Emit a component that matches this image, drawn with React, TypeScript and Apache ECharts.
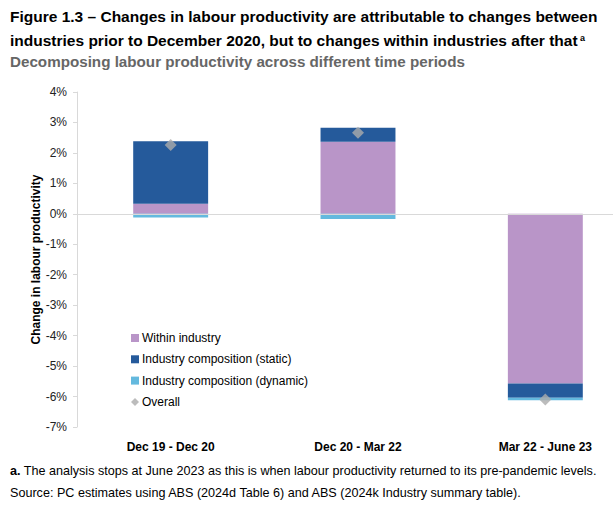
import React, { useEffect, useRef } from "react";
import * as echarts from "echarts";

const categories = ["Dec 19 - Dec 20", "Dec 20 - Mar 22", "Mar 22 - June 23"];
const withinIndustry = [0.33, 2.37, -5.57];
const compositionStatic = [2.05, 0.46, -0.47];
const compositionDynamic = [-0.12, -0.17, -0.08];
const overall = [2.26, 2.66, -6.1];
const yTicks = { min: -7, max: 4, interval: 1 };

export default function App() {
  const ref = useRef<HTMLDivElement>(null);
  useEffect(() => {
    document.body.style.margin = "0";
    const chart = echarts.init(ref.current!, null, { renderer: "svg" });
    const font = "'Liberation Sans', Arial, sans-serif";
    chart.setOption({
      animation: false,
      textStyle: { fontFamily: font },
      title: [
        {
          left: 10,
          top: 4,
          padding: 0,
          text:
            "{t|Figure 1.3 – Changes in labour productivity are attributable to changes between}\n{t|industries prior to December 2020, but to changes within industries after that}{sup| a}",
          textStyle: {
            fontFamily: font,
            fontSize: 15.5,
            fontWeight: "bold",
            color: "#000",
            lineHeight: 24,
            rich: {
              t: { fontSize: 15.5, fontWeight: "bold", color: "#000", lineHeight: 24, fontFamily: font },
              sup: { fontSize: 9, fontWeight: "bold", color: "#000", verticalAlign: "top", lineHeight: 14, padding: [5, 0, 0, 0], fontFamily: font },
            },
          },
        },
        {
          left: 10,
          top: 54,
          padding: 0,
          text: "Decomposing labour productivity across different time periods",
          textStyle: { fontFamily: font, fontSize: 15.2, fontWeight: "bold", color: "#666666" },
        },
        {
          left: 10,
          top: 460,
          padding: 0,
          text: "{b|a.} The analysis stops at June 2023 as this is when labour productivity returned to its pre-pandemic levels.\nSource: PC estimates using ABS (2024d Table 6) and ABS (2024k Industry summary table).",
          textStyle: {
            fontFamily: font,
            fontSize: 12.6,
            fontWeight: "normal",
            color: "#000",
            lineHeight: 22,
            rich: { b: { fontWeight: "bold", fontSize: 12.6, fontFamily: font } },
          },
        },
      ],
      legend: {
        orient: "vertical",
        left: 126,
        top: 327,
        itemGap: 9.3,
        itemWidth: 8,
        itemHeight: 8,
        textStyle: { fontFamily: font, fontSize: 12, color: "#000", padding: [0, 0, 0, -2] },
        data: [
          { name: "Within industry", icon: "rect" },
          { name: "Industry composition (static)", icon: "rect" },
          { name: "Industry composition (dynamic)", icon: "rect" },
          { name: "Overall", icon: "diamond" },
        ],
      },
      grid: { left: 77, top: 92, width: 562, height: 335, outerBoundsMode: "none", containLabel: false },
      xAxis: {
        type: "category",
        data: categories,
        axisLine: { show: false, onZero: false },
        axisTick: { show: false },
        axisLabel: { fontFamily: font, fontSize: 12, fontWeight: "bold", color: "#000", margin: 14 },
      },
      yAxis: {
        type: "value",
        min: yTicks.min,
        max: yTicks.max,
        interval: yTicks.interval,
        name: "Change in labour productivity",
        nameLocation: "middle",
        nameGap: 35,
        nameMoveOverlap: false,
        nameTextStyle: { fontFamily: font, fontSize: 12, fontWeight: "bold", color: "#000" },
        axisLine: { show: true, lineStyle: { color: "#D9D9D9" } },
        axisTick: { show: true, length: 4, lineStyle: { color: "#D9D9D9" } },
        splitLine: { show: false },
        axisLabel: { fontFamily: font, fontSize: 12, color: "#222", margin: 10, formatter: (v: number) => `${v}%` },
      },
      series: [
        {
          name: "Within industry",
          type: "bar",
          stack: "total",
          barWidth: "40%",
          data: withinIndustry,
          itemStyle: { color: "#B995C8" },
          markLine: {
            silent: true,
            symbol: "none",
            label: { show: false },
            lineStyle: { color: "#D9D9D9", type: "solid", width: 1 },
            data: [{ yAxis: 0 }],
          },
        },
        {
          name: "Industry composition (static)",
          type: "bar",
          stack: "total",
          data: compositionStatic,
          itemStyle: { color: "#255A9B" },
        },
        {
          name: "Industry composition (dynamic)",
          type: "bar",
          stack: "total",
          data: compositionDynamic,
          itemStyle: { color: "#64B9DE" },
        },
        {
          name: "Overall",
          type: "scatter",
          symbol: "diamond",
          symbolSize: 12,
          data: overall,
          itemStyle: { color: "#ABABAB" },
          z: 5,
        },
      ],
    });
    return () => chart.dispose();
  }, []);
  return <div ref={ref} style={{ width: 613, height: 508 }} />;
}
